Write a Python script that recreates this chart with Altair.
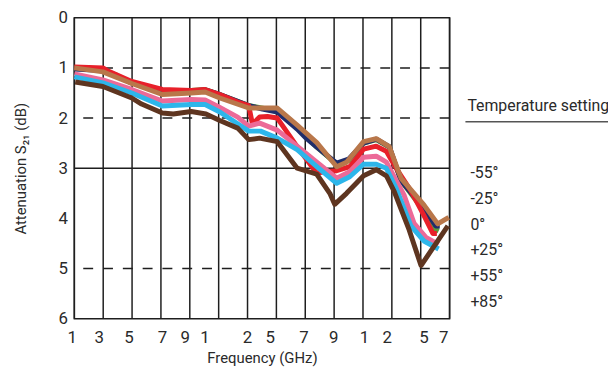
import altair as alt
import pandas as pd

# ---------------- data (x in gridline units 0..13, y = attenuation dB) ----------------
series_names = ["green", "navy", "red", "pink", "cyan", "tan", "darkbrown"]

green_x = [0, 0.51, 0.99, 1.48, 1.99, 3.05, 4.05, 4.53, 5.04, 6.04, 7.03, 7.72, 8.40, 9.09, 9.50, 10.02, 10.46, 10.91, 11.32, 12.11, 12.35, 12.62]
green_y = [1.0, 1.0, 1.04, 1.15, 1.3, 1.47, 1.45, 1.43, 1.53, 1.75, 1.86, 2.2, 2.58, 2.92, 2.85, 2.5, 2.43, 2.58, 3.25, 3.85, 4.17, 4.25]

navy_x = [0, 0.99, 1.99, 3.05, 4.05, 4.53, 5.04, 6.04, 6.52, 7.03, 7.72, 7.99, 8.40, 9.09, 9.50, 10.02, 10.46, 10.91, 11.32, 12.11, 12.52, 12.66]
navy_y = [1.02, 1.05, 1.3, 1.47, 1.46, 1.44, 1.53, 1.75, 1.82, 1.88, 2.22, 2.38, 2.58, 2.9, 2.82, 2.5, 2.42, 2.57, 3.25, 3.8, 4.15, 4.15]

red_x = [0, 0.99, 1.13, 1.99, 3.05, 4.05, 4.53, 5.04, 5.66, 6.04, 6.17, 6.42, 6.69, 7.03, 7.72, 8.40, 8.64, 9.09, 9.54, 10.02, 10.46, 10.81, 11.15, 11.66, 12.11, 12.42, 12.56]
red_y = [0.98, 1.0, 1.05, 1.27, 1.43, 1.45, 1.43, 1.53, 1.68, 1.75, 2.12, 1.98, 1.97, 2.0, 2.57, 3.1, 3.07, 3.05, 2.97, 2.62, 2.56, 2.66, 3.0, 3.45, 3.94, 4.3, 4.3]

pink_x = [0, 0.99, 1.99, 3.05, 4.05, 4.53, 5.04, 5.66, 6.04, 6.42, 7.03, 7.72, 8.40, 9.09, 9.54, 10.02, 10.46, 10.81, 11.42, 11.77, 12.18, 12.62]
pink_y = [1.12, 1.24, 1.43, 1.66, 1.63, 1.64, 1.79, 1.98, 2.16, 2.1, 2.24, 2.56, 2.88, 3.2, 3.07, 2.78, 2.76, 2.88, 3.53, 4.1, 4.38, 4.52]

cyan_x = [0, 0.99, 1.99, 3.05, 4.05, 4.53, 5.04, 6.04, 6.45, 7.03, 7.72, 8.40, 9.09, 9.54, 10.02, 10.46, 10.81, 11.15, 11.66, 12.11, 12.62]
cyan_y = [1.18, 1.3, 1.5, 1.76, 1.73, 1.73, 1.88, 2.26, 2.26, 2.4, 2.63, 2.97, 3.3, 3.17, 2.92, 2.92, 3.0, 3.4, 4.15, 4.45, 4.61]

tan_x = [0, 0.99, 1.99, 3.05, 4.05, 4.53, 5.04, 6.04, 7.03, 7.72, 8.40, 9.09, 9.43, 10.02, 10.46, 10.91, 11.32, 12.11, 12.59, 12.97]
tan_y = [1.0, 1.08, 1.31, 1.53, 1.5, 1.48, 1.6, 1.8, 1.8, 2.14, 2.49, 2.97, 2.88, 2.47, 2.41, 2.57, 3.2, 3.73, 4.11, 3.98]

darkbrown_x = [0.03, 0.99, 1.99, 2.33, 3.05, 3.43, 4.05, 4.56, 5.04, 5.66, 6.04, 6.42, 7.03, 7.72, 8.40, 8.85, 9.02, 9.43, 10.02, 10.46, 10.81, 11.08, 11.60, 12.01, 12.94]
darkbrown_y = [1.28, 1.37, 1.6, 1.72, 1.9, 1.92, 1.87, 1.92, 2.05, 2.2, 2.43, 2.4, 2.47, 3.0, 3.12, 3.5, 3.72, 3.5, 3.15, 3.03, 3.15, 3.46, 4.23, 4.94, 4.15]

# tick labels along the frequency axis and their positions (gridline units)
x_tick_labels = ["1", "3", "5", "7", "9", "1", "2", "5", "7", "9", "1", "2", "5", "7"]
x_tick_pos = [-0.07, 0.86, 1.89, 3.05, 3.84, 4.53, 6.0, 6.79, 7.96, 8.99, 10.05, 10.84, 12.11, 12.8]
x_grid = list(range(14))

y_ticks = [0, 1, 2, 3, 4, 5, 6]
dashed_levels = [1, 2, 5]
solid_levels = [3]

legend_title = "Temperature setting"
legend_items = ["-55°", "-25°", "0°", "+25°", "+55°", "+85°"]

# ---------------- styles ----------------
FONT = "Roboto"
TXT = "#2a2a2a"
GRID = "#1e1e1e"
colors = {
    "green": "#5f9c3a",
    "navy": "#1f2d6b",
    "red": "#e8202a",
    "pink": "#ec6a98",
    "cyan": "#2db6ea",
    "tan": "#b9774a",
    "darkbrown": "#5e3520",
}
W, H = 379, 304
TOP = 8

data = {
    "green": (green_x, green_y),
    "navy": (navy_x, navy_y),
    "red": (red_x, red_y),
    "pink": (pink_x, pink_y),
    "cyan": (cyan_x, cyan_y),
    "tan": (tan_x, tan_y),
    "darkbrown": (darkbrown_x, darkbrown_y),
}

xscale = alt.Scale(domain=[0, 13], nice=False, zero=False)
yscale = alt.Scale(domain=[0, 6], reverse=True, nice=False)

grid_df = pd.DataFrame({"g": x_grid})
base_grid = alt.Chart(grid_df).mark_rule(color=GRID, strokeWidth=1.5).encode(
    x=alt.X("g:Q", scale=xscale,
            axis=alt.Axis(values=x_grid, labels=False, ticks=False, grid=False, domain=False,
                          title="Frequency (GHz)", titleFont=FONT, titleFontSize=15,
                          titleFontWeight="normal", titleColor=TXT, titlePadding=32)),
)

ytick_df = pd.DataFrame({"v": y_ticks})
yaxis_layer = alt.Chart(ytick_df).mark_point(opacity=0).encode(
    y=alt.Y("v:Q", scale=yscale,
            axis=alt.Axis(values=y_ticks, ticks=False, grid=False, domain=False,
                          labelFont=FONT, labelFontSize=17, labelColor=TXT, labelPadding=7,
                          title="Attenuation S₂₁ (dB)", titleFont=FONT, titleFontSize=15,
                          titleFontWeight="normal", titleColor=TXT, titlePadding=30)),
)

dash_df = pd.DataFrame({"v": dashed_levels})
dash_layer = alt.Chart(dash_df).mark_rule(color=GRID, strokeWidth=1.5, strokeDash=[10, 10]).encode(
    y=alt.Y("v:Q", scale=yscale)
)
solid_df = pd.DataFrame({"v": solid_levels})
solid_layer = alt.Chart(solid_df).mark_rule(color=GRID, strokeWidth=1.5).encode(
    y=alt.Y("v:Q", scale=yscale)
)

line_layers = []
for name in series_names:
    xs, ys = data[name]
    df = pd.DataFrame({"x": xs, "y": ys})
    line_layers.append(
        alt.Chart(df).mark_line(color=colors[name], strokeWidth=5, strokeJoin="round").encode(
            x=alt.X("x:Q", scale=xscale),
            y=alt.Y("y:Q", scale=yscale),
        )
    )

xlab_df = pd.DataFrame({"p": x_tick_pos, "t": x_tick_labels})
xlab_layer = alt.Chart(xlab_df).mark_text(font=FONT, fontSize=17, color=TXT, baseline="middle").encode(
    x=alt.X("p:Q", scale=xscale), y=alt.value(H + 20), text="t:N"
)

off = 9 - (8 + TOP)  # shift legend coordinates to page positions of the reference
leg_layers = [
    alt.Chart(pd.DataFrame({"t": [legend_title]})).mark_text(
        font=FONT, fontSize=16, color=TXT, align="left", baseline="middle"
    ).encode(x=alt.value(W + 18), y=alt.value(96 + off), text="t:N"),
    alt.Chart(pd.DataFrame({"a": [0]})).mark_rule(color="#555555", strokeWidth=1.5).encode(
        x=alt.value(W + 16), x2=alt.value(W + 160), y=alt.value(112 + off)
    ),
]
for i, item in enumerate(legend_items):
    leg_layers.append(
        alt.Chart(pd.DataFrame({"t": [item]})).mark_text(
            font=FONT, fontSize=16, color=TXT, align="left", baseline="middle"
        ).encode(x=alt.value(W + 21), y=alt.value(164 + 26 * i + off), text="t:N")
    )

chart = alt.layer(
    base_grid, yaxis_layer, dash_layer, solid_layer, *line_layers, xlab_layer, *leg_layers
).properties(
    width=W, height=H,
    autosize=alt.AutoSizeParams(type="none"),
    padding={"left": 67, "top": TOP, "right": 160, "bottom": 55},
).configure_view(stroke=GRID, strokeWidth=1.5)

chart.save("out.html", embed_options={"renderer": "svg", "actions": False})
